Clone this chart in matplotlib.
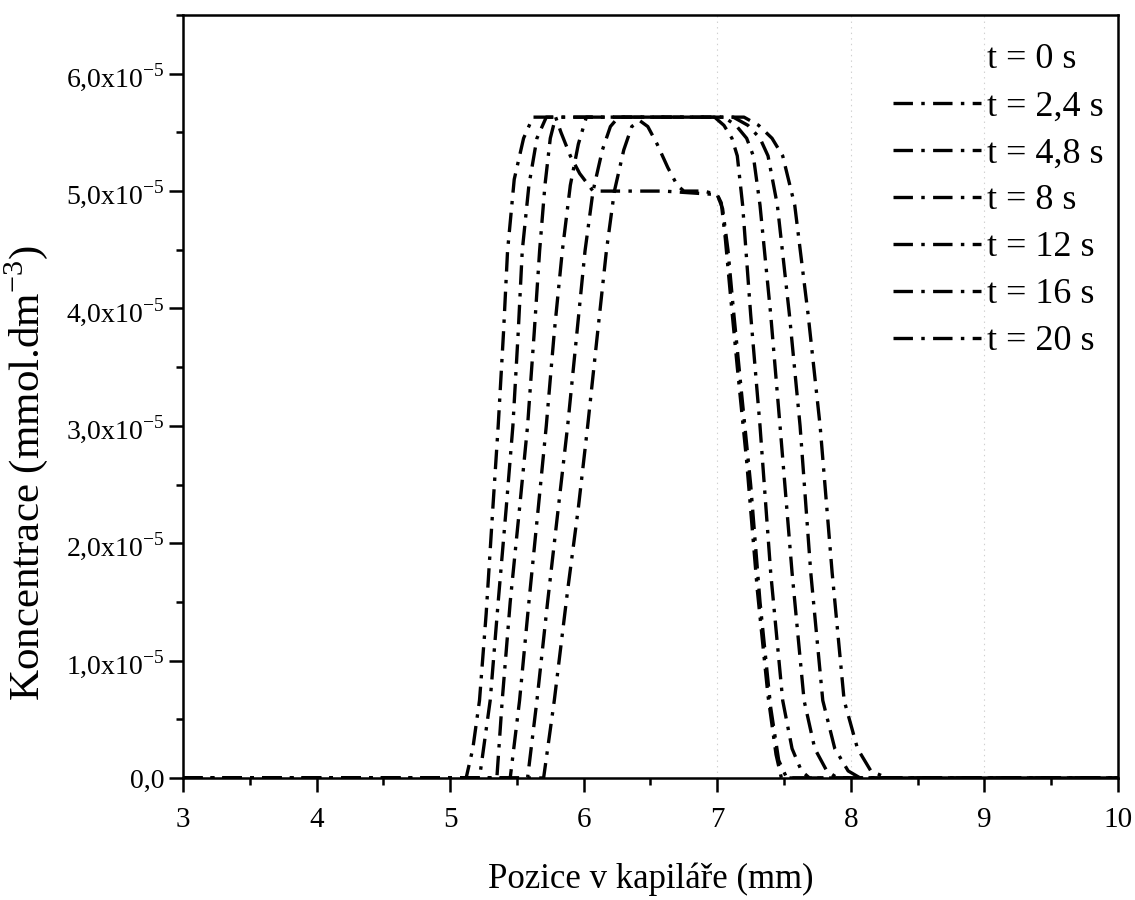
import numpy as np
import matplotlib.pyplot as plt
from matplotlib.ticker import MultipleLocator

plt.rcParams['font.family'] = ['Liberation Serif', 'DejaVu Serif']
plt.rcParams['mathtext.fontset'] = 'custom'
plt.rcParams['mathtext.rm'] = 'Liberation Serif'
plt.rcParams['lines.scale_dashes'] = False

# concentration values in units of 1e-5 mmol.dm-3
labels = ['t = 0 s', 't = 2,4 s', 't = 4,8 s', 't = 8 s', 't = 12 s', 't = 16 s', 't = 20 s']

x_24 = [3.0, 5.70, 5.78, 5.88, 5.96, 6.03, 6.10, 6.17, 6.23, 6.30, 6.36, 6.42, 6.48, 6.55, 6.63,
        6.70, 6.75, 6.90, 7.00, 7.04, 7.08, 7.12, 7.18, 7.25, 7.32, 7.40, 7.46, 7.52, 10.0]
y_24 = [0, 0, 0.66, 1.6, 2.3, 3.0, 3.75, 4.49, 5.0, 5.35, 5.55, 5.6, 5.55, 5.4, 5.2,
        5.05, 5.0, 5.0, 4.97, 4.85, 4.5, 4.0, 3.3, 2.5, 1.5, 0.6, 0.15, 0, 0]

x_48 = [3.0, 5.58, 5.65, 5.73, 5.81, 5.88, 5.95, 6.01, 6.07, 6.14, 6.20, 6.26, 6.98, 7.05,
        7.11, 7.15, 7.19, 7.25, 7.32, 7.40, 7.49, 7.56, 7.63, 7.69, 10.0]
y_48 = [0, 0, 0.66, 1.5, 2.3, 3.0, 3.8, 4.49, 5.0, 5.35, 5.55, 5.63, 5.63, 5.56,
        5.45, 5.3, 4.88, 3.95, 3.0, 1.75, 0.66, 0.25, 0.06, 0, 0]

x_8 = [3.0, 5.45, 5.52, 5.59, 5.66, 5.72, 5.78, 5.84, 5.90, 5.96, 6.02, 7.05, 7.14,
       7.22, 7.27, 7.32, 7.40, 7.47, 7.56, 7.65, 7.73, 7.82, 7.90, 10.0]
y_8 = [0, 0, 0.66, 1.5, 2.3, 3.0, 3.8, 4.49, 5.05, 5.4, 5.63, 5.63, 5.56,
       5.45, 5.3, 4.88, 3.95, 3.0, 1.75, 0.66, 0.25, 0.06, 0, 0]

x_12 = [3.0, 5.35, 5.39, 5.45, 5.52, 5.58, 5.63, 5.67, 5.71, 5.75, 5.79, 5.83, 5.90, 5.97,
        6.07, 6.60, 7.00, 7.03, 7.06, 7.10, 7.15, 7.22, 7.30, 7.38, 7.44, 7.48, 10.0]
y_12 = [0, 0, 0.66, 1.5, 2.3, 3.0, 3.8, 4.49, 5.05, 5.45, 5.63, 5.5, 5.3, 5.15,
        5.0, 5.0, 4.97, 4.9, 4.6, 4.1, 3.5, 2.7, 1.6, 0.7, 0.2, 0, 0]

x_16 = [3.0, 5.22, 5.30, 5.36, 5.42, 5.47, 5.51, 5.54, 5.59, 5.65, 5.72, 7.12, 7.23,
        7.32, 7.38, 7.45, 7.54, 7.62, 7.70, 7.79, 7.88, 7.98, 8.07, 10.0]
y_16 = [0, 0, 0.66, 1.5, 2.3, 3.0, 3.8, 4.49, 5.05, 5.45, 5.63, 5.63, 5.56,
        5.45, 5.3, 4.88, 3.95, 3.0, 1.75, 0.66, 0.25, 0.06, 0, 0]

x_20 = [3.0, 5.12, 5.17, 5.22, 5.27, 5.32, 5.36, 5.40, 5.43, 5.48, 5.55, 5.62, 7.20, 7.31,
        7.41, 7.49, 7.58, 7.68, 7.77, 7.86, 7.95, 8.05, 8.15, 8.27, 10.0]
y_20 = [0, 0, 0.25, 0.66, 1.4, 2.3, 3.0, 3.8, 4.49, 5.1, 5.45, 5.63, 5.63, 5.56,
        5.45, 5.3, 4.88, 3.95, 3.0, 1.75, 0.66, 0.25, 0.06, 0, 0]

curves_x = [x_24, x_48, x_8, x_12, x_16, x_20]
curves_y = [y_24, y_48, y_8, y_12, y_16, y_20]

ytick_vals = [0, 1, 2, 3, 4, 5, 6]
ytick_labels = ['0,0'] + [r'%d,0x10$^{\mathregular{-5}}$' % v for v in ytick_vals[1:]]

fig = plt.figure(figsize=(11.35, 9), dpi=100)
ax = fig.add_axes([0.1612, 0.1356, 0.8238, 0.8477])

for gx in [7, 8, 9]:
    ax.axvline(gx, color='#d0d0d0', lw=0.8, ls=(0, (1, 3)), zorder=0)

ax.plot([], [], ls='none', label=labels[0])
for cx, cy, lab in zip(curves_x, curves_y, labels[1:]):
    ax.plot(cx, np.array(cy) * 1e-5, color='black', lw=2.4,
            dashes=(14, 6, 2.5, 6), label=lab)

ax.set_xlim(3, 10)
ax.set_ylim(0, 6.5e-5)
ax.xaxis.set_major_locator(MultipleLocator(1))
ax.xaxis.set_minor_locator(MultipleLocator(0.5))
ax.set_yticks(np.array(ytick_vals) * 1e-5)
ax.set_yticklabels(ytick_labels)
ax.yaxis.set_minor_locator(MultipleLocator(0.5e-5))

ax.tick_params(which='both', direction='out', width=1.8, labelsize=20)
ax.tick_params(axis='x', labelsize=21, pad=11)
ax.tick_params(which='major', length=10)
ax.tick_params(which='minor', length=5)
for s in ax.spines.values():
    s.set_linewidth(1.8)

ax.set_xlabel('Pozice v kapiláře (mm)', fontsize=25, labelpad=21)
ax.set_ylabel(r'Koncentrace (mmol.dm$^{\mathregular{-3}}$)', fontsize=31)
ax.yaxis.set_label_coords(-0.142, 0.40)

ax.legend(loc='upper right', frameon=False, fontsize=26, handlelength=2.45,
          handletextpad=0.15, labelspacing=0.38, borderaxespad=0.0,
          bbox_to_anchor=(1.0, 0.982))

fig.savefig('out.png', dpi=100)
